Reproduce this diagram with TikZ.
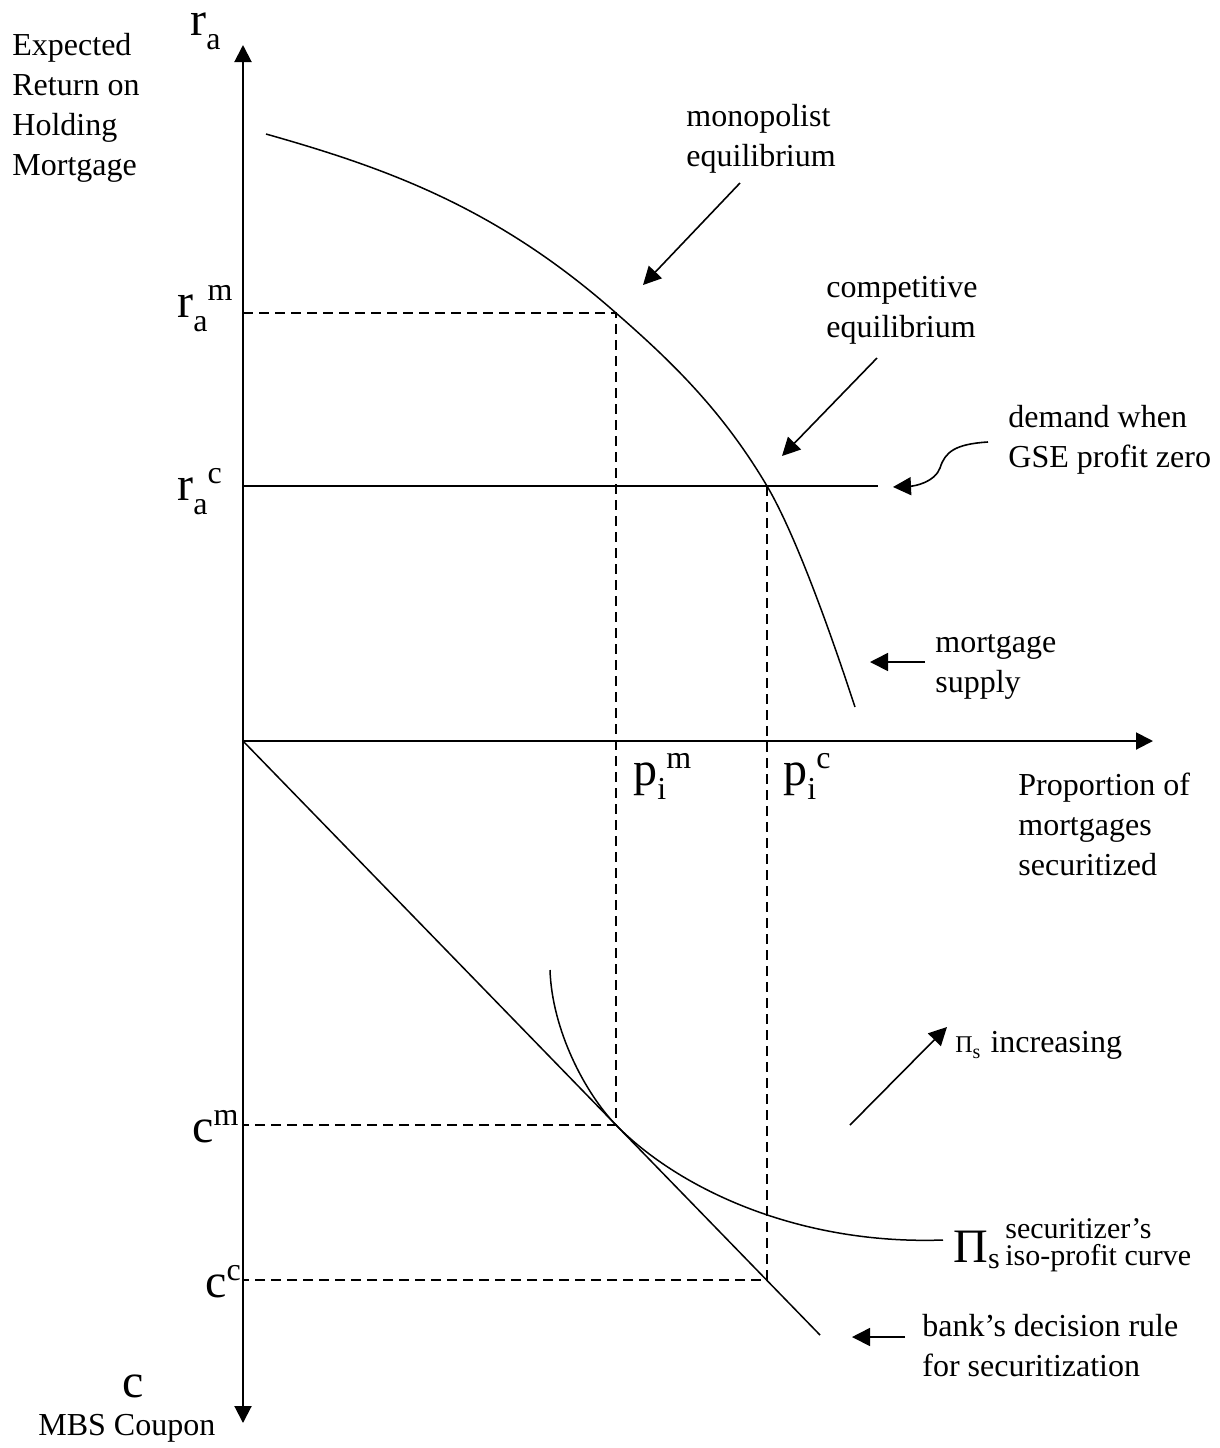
\documentclass[tikz,border=0pt]{standalone}
\usepackage{fontspec}
\setmainfont{Liberation Serif}
\usetikzlibrary{arrows.meta}

\newcommand{\bigsym}[1]{{\fontsize{24}{24}\selectfont #1}}
\newcommand{\lowidx}[1]{\raisebox{-7pt}{\fontsize{16}{16}\selectfont #1}}
\newcommand{\highidx}[1]{\raisebox{8.5pt}{\fontsize{16}{16}\selectfont #1}}

\begin{document}
\begin{tikzpicture}[x=0.5pt, y=-0.5pt,
    >={Triangle[length=8.5pt,width=8.5pt]},
    axis/.style={line width=1pt},
    curve/.style={line width=0.75pt},
    guide/.style={line width=0.75pt, dash pattern=on 5pt off 3pt},
    pointer/.style={line width=0.8pt, -{Triangle[length=9pt,width=9pt]}},
    note/.style={font=\fontsize{16}{20}\selectfont, align=left, inner sep=0pt, anchor=north west},
    sym/.style={inner sep=0pt, anchor=base west}]
  \useasboundingbox (0,0) rectangle (1220,1448);

  % axes
  \coordinate (O) at (243,741);
  \draw[axis,<->] (243,1423) -- (243,45);
  \draw[axis,->] (O) -- (1153,741);

  % equilibrium points
  \coordinate (Em) at (616,313);
  \coordinate (Ec) at (767,486);
  \coordinate (Tm) at (616,1125);
  \coordinate (Tc) at (767,1280);

  % guides
  \draw[guide] (243,313) -- (Em) -- (Tm) -- (243,1125);
  \draw[guide] (Ec) -- (Tc) -- (243,1280);
  \draw[curve] (243,486) -- (878,486);

  % mortgage supply
  \draw[curve] (266,134) .. controls (386,168) and (496,207) .. (Em)
    .. controls (671,361) and (722,410) .. (Ec)
    .. controls (797,537) and (833,640) .. (855,707);

  % bank's decision rule and iso-profit curve
  \draw[curve] (O) -- (820,1335);
  \draw[curve] (550,970) .. controls (552,1030) and (585,1093) .. (Tm)
    .. controls (680,1190) and (800,1245) .. (943,1240);

  % labels
  \node[note] (yname) at (12,33) {Expected\\Return on\\Holding\\Mortgage};
  \node[note] (mono) at (686,104) {monopolist\\equilibrium};
  \node[note] (comp) at (826,276) {competitive\\equilibrium};
  \node[note] (dem) at (1008,405) {demand when\\GSE profit zero};
  \node[note] (supply) at (935,634) {mortgage\\supply};
  \node[note] (xname) at (1018,773) {Proportion of\\mortgages\\securitized};
  \node[note] (bank) at (922,1314) {bank's decision rule\\for securitization};
  \node[sym, font=\fontsize{16}{20}\selectfont] (cname) at (38,1435) {MBS Coupon};
  \node[note, font=\fontsize{15}{13.5}\selectfont] (isotext) at (1005,1218) {securitizer's\\iso-profit curve};

  \node[sym] (ra) at (190,35) {\bigsym{r}\lowidx{a}};
  \node[sym] (ram) at (177,317) {\bigsym{r}\lowidx{a}\highidx{m}};
  \node[sym] (rac) at (177,500) {\bigsym{r}\lowidx{a}\highidx{c}};
  \node[sym] (pim) at (633,785) {\bigsym{p}\lowidx{i}\highidx{m}};
  \node[sym] (pic) at (783,785) {\bigsym{p}\lowidx{i}\highidx{c}};
  \node[sym] (cm) at (192,1142) {\bigsym{c}\highidx{m}};
  \node[sym] (cc) at (205,1297) {\bigsym{c}\highidx{c}};
  \node[sym] (cax) at (122,1397) {\bigsym{c}};
  \node[sym] (piso) at (953,1262) {{\fontsize{24}{24}\selectfont Π}\raisebox{-3pt}{\fontsize{15}{15}\selectfont s}};
  \node[sym] (incr) at (955,1052) {{\fontsize{12}{12}\selectfont Π}\raisebox{-3pt}{\fontsize{10}{10}\selectfont s}\hspace{5pt}{\fontsize{16}{20}\selectfont increasing}};

  % pointers
  \coordinate (monoTail) at (740,183);
  \coordinate (compTail) at (877,358);
  \coordinate (demTail) at (988,442);
  \coordinate (supTail) at (925,662);
  \coordinate (incTail) at (850,1125);
  \coordinate (incTip) at (947,1027);
  \coordinate (bankTail) at (905,1337);
  \draw[pointer] (monoTail) -- (643,285);
  \draw[pointer] (compTail) -- (782,456);
  \draw[pointer] (demTail) .. controls (955,444) and (945,452) .. (940,468)
    .. controls (935,482) and (915,486) .. (893,487);
  \draw[pointer] (supTail) -- (870,662);
  \draw[pointer] (incTail) -- (incTip);
  \draw[pointer] (bankTail) -- (852,1337);
\end{tikzpicture}
\end{document}
